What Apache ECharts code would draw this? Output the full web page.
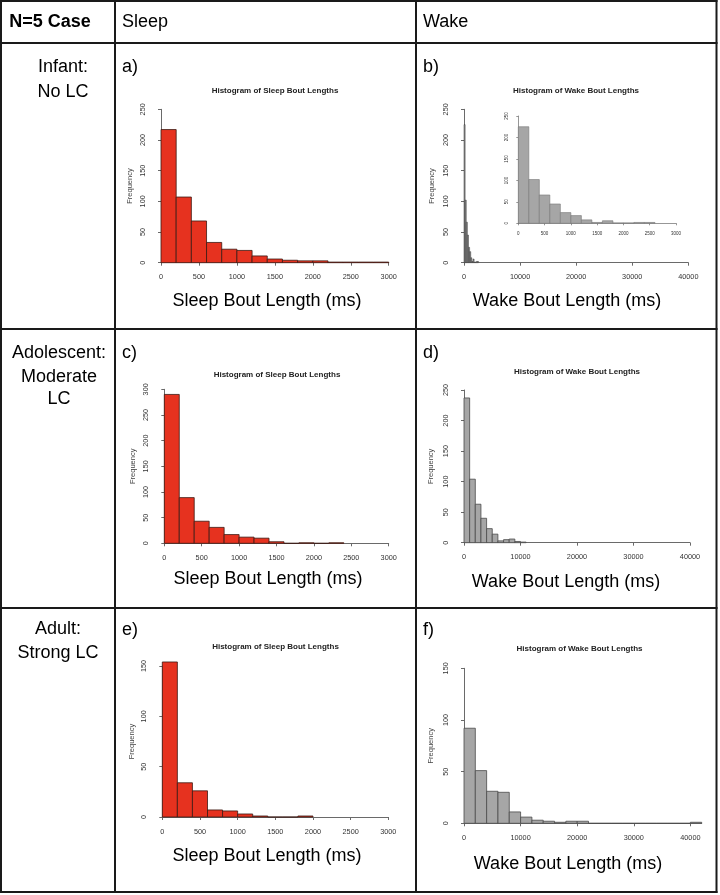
<!DOCTYPE html>
<html><head><meta charset="utf-8">
<script src="https://cdn.jsdelivr.net/npm/echarts@6/dist/echarts.min.js"></script>
<style>html,body{margin:0;padding:0;background:#fff}#c{width:720px;height:895px}</style>
</head><body><div id="c"></div>
<script>
// ---- data (bin counts) ----
const sleepBinWidth = 200;      // ms
const wakeBinWidthInfant = 200; // ms (main + inset)
const wakeBinWidthAdolescent = 1000;
const wakeBinWidthAdult = 2000;
const sleepInfant      = [217,107,68,33,22,20,11,6,4,3,3,1,1,1,1];
const wakeInfant       = [225,102,66,45,25,18,8,2,6,1,1,2,2];
const sleepAdolescent  = [290,89,43,31,17,12,10,3,0,1,0,1];
const wakeAdolescent   = [237,104,63,40,23,14,3,5,6,2,1];
const sleepAdult       = [154,34,26,7,6,3,1,0,0,1];
const wakeAdult        = [92,51,31,30,11,6,3,2,1,2,2,0,0,0,0,0,0,0,0,0,1];
const sleepXTicks = [0,500,1000,1500,2000,2500,3000];
const wakeXTicks  = [0,10000,20000,30000,40000];
const rowLabels = [["Infant:","No LC"],["Adolescent:","Moderate","LC"],["Adult:","Strong LC"]];
const panelLetters = ["a)","b)","c)","d)","e)","f)"];
const colHeaders = ["N=5 Case","Sleep","Wake"];
const sleepTitle = "Histogram of Sleep Bout Lengths";
const wakeTitle = "Histogram of Wake Bout Lengths";
const sleepXName = "Sleep Bout Length (ms)";
const wakeXName = "Wake Bout Length (ms)";

const FONT = "'Liberation Sans', Arial, Helvetica, sans-serif";
const RED = '#e6321f', RED_EDGE = '#3b1a14';
const GREY = '#a6a6a6', GREY_EDGE = '#4a4a4a';

// ---- layout ----
const grids = [
  {left:161,   top:109.3, width:227.7, height:153.4}, // a
  {left:464,   top:109.3, width:224.3, height:153.4}, // b main
  {left:518.3, top:116,   width:157.7, height:107.3}, // b inset
  {left:164.3, top:389.3, width:224.4, height:154},   // c
  {left:464,   top:390,   width:226,   height:152.7}, // d
  {left:162.3, top:666,   width:226,   height:151},   // e
  {left:464,   top:668.3, width:237.7, height:155}    // f
].map(g => Object.assign({outerBoundsMode:'none', containLabel:false}, g));

const plain = v => String(v);
const axisCommon = (small) => ({
  axisLine:{show:true, lineStyle:{color:'#6a6a6a', width:small?0.7:1}},
  axisTick:{show:true, length:small?2:3, lineStyle:{color:'#6a6a6a', width:small?0.7:1}},
  splitLine:{show:false},
  axisLabel:{color:'#333', fontFamily:FONT, fontSize:small?4.5:7.3, formatter:plain}
});

function xAx(i, max, ticks, interval, small) {
  const c = axisCommon(small);
  return Object.assign(c, {
    type:'value', gridIndex:i, min:0, max:max, interval:interval,
    offset: small?4:6,
    axisTick: Object.assign(c.axisTick, {customValues:ticks}),
    axisLabel: Object.assign(c.axisLabel, {customValues:ticks, margin: small?4:5})
  });
}
function yAx(i, max, small, gap) {
  const c = axisCommon(small);
  return Object.assign(c, {
    type:'value', gridIndex:i, min:0, max:max, interval:50,
    offset: small?5:9,
    name: small ? '' : 'Frequency', nameLocation:'middle', nameRotate:90, nameGap:gap||18,
    nameTextStyle:{fontFamily:FONT, fontSize:7.5, color:'#444'},
    axisLabel: Object.assign(c.axisLabel, {rotate:90, margin: small?4:6})
  });
}

const xAxes = [
  xAx(0, 3000, sleepXTicks, 500),
  xAx(1, 40000, wakeXTicks, 10000),
  xAx(2, 3000, sleepXTicks, 500, true),
  xAx(3, 3000, sleepXTicks, 500),
  xAx(4, 40000, wakeXTicks, 10000),
  xAx(5, 3000, sleepXTicks, 500),
  xAx(6, 42000, wakeXTicks, 10000)
];
const yAxes = [
  yAx(0, 250, false, 18),
  yAx(1, 250, false, 19),
  yAx(2, 250, true),
  yAx(3, 300, false, 18),
  yAx(4, 250, false, 20),
  yAx(5, 150, false, 17.5),
  yAx(6, 150, false, 20)
];

function hist(counts, width, idx, fill, stroke, lw) {
  const data = counts.map((c, i) => [i*width, (i+1)*width, c]);
  return {
    type:'custom', xAxisIndex:idx, yAxisIndex:idx, data:data,
    encode:{x:[0,1], y:2}, silent:true,
    renderItem:function(params, api){
      const p0 = api.coord([api.value(0), api.value(2)]);
      const p1 = api.coord([api.value(1), 0]);
      return {type:'rect', shape:{x:p0[0], y:p0[1], width:p1[0]-p0[0], height:p1[1]-p0[1]},
              style:{fill:fill, stroke:stroke, lineWidth:lw}};
    }
  };
}

const series = [
  hist(sleepInfant, sleepBinWidth, 0, RED, RED_EDGE, 0.8),
  hist(wakeInfant, wakeBinWidthInfant, 1, '#8a8a8a', '#3a3a3a', 0.5),
  hist(wakeInfant, wakeBinWidthInfant, 2, GREY, '#777', 0.6),
  hist(sleepAdolescent, sleepBinWidth, 3, RED, RED_EDGE, 0.8),
  hist(wakeAdolescent, wakeBinWidthAdolescent, 4, GREY, GREY_EDGE, 0.8),
  hist(sleepAdult, sleepBinWidth, 5, RED, RED_EDGE, 0.8),
  hist(wakeAdult, wakeBinWidthAdult, 6, GREY, GREY_EDGE, 0.8)
];

// ---- table graphics ----
const LINE = {stroke:'#1a1a1a', lineWidth:2};
const hLines = [1, 43, 329, 608, 892];
const vLines = [1, 115, 416, 716.5];
const graphics = [];
hLines.forEach(y => graphics.push({type:'line', shape:{x1:0, y1:y, x2:717.5, y2:y}, style:LINE}));
vLines.forEach(x => graphics.push({type:'line', shape:{x1:x, y1:0, x2:x, y2:893}, style:LINE}));

function txt(text, x, y, size, opts) {
  opts = opts || {};
  graphics.push({type:'text', x:x, y:y, style:{text:text, fontFamily:FONT, fontSize:size,
    fontWeight:opts.bold?'bold':'normal', fill:opts.color||'#000',
    align:opts.align||'center', verticalAlign:'middle'}});
}
txt(colHeaders[0], 50, 22, 18, {bold:true});
txt(colHeaders[1], 122, 22, 18, {align:'left'});
txt(colHeaders[2], 423, 22, 18, {align:'left'});

const rowY = [[67,92],[353,377,399],[629,653]];
const rowX = [63, 59, 58];
rowLabels.forEach((lines, r) => lines.forEach((t, k) => txt(t, rowX[r], rowY[r][k], 18)));

const letterPos = [[122,67],[423,67],[122,353],[423,353],[122,630],[423,630]];
panelLetters.forEach((t, i) => txt(t, letterPos[i][0], letterPos[i][1], 18, {align:'left'}));

const titlePos = [[275,91,sleepTitle],[576,91,wakeTitle],[277,375,sleepTitle],[577,372,wakeTitle],[275.5,647,sleepTitle],[579.5,649,wakeTitle]];
titlePos.forEach(p => txt(p[2], p[0], p[1], 8, {bold:true, color:'#222'}));

const xNamePos = [[267,301,sleepXName],[567,301,wakeXName],[268,579,sleepXName],[566,582,wakeXName],[267,856,sleepXName],[568,864,wakeXName]];
xNamePos.forEach(p => txt(p[2], p[0], p[1], 18));

const chart = echarts.init(document.getElementById('c'), null, {renderer:'canvas'});
chart.setOption({
  backgroundColor:'#fff',
  animation:false,
  textStyle:{fontFamily:FONT},
  grid:grids, xAxis:xAxes, yAxis:yAxes, series:series,
  graphic:{elements:graphics}
});
</script></body></html>
